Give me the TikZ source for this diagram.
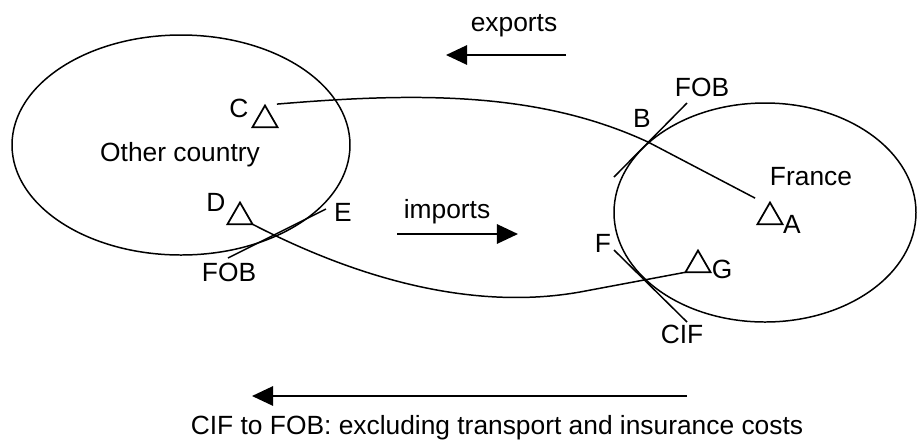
\documentclass[tikz,border=0pt]{standalone}
\usepackage{fontspec}
\setmainfont{Liberation Sans}
\usetikzlibrary{shapes.geometric,arrows.meta}
\tikzset{
  tri/.style={draw,regular polygon,regular polygon sides=3,minimum size=0.58cm,inner sep=0pt,outer sep=0pt,line width=1pt},
  lbl/.style={inner sep=0pt,font=\fontsize{15}{18}\selectfont},
  flow/.style={line width=1.2pt,-{Triangle[length=12pt,width=11pt]}}
}
\begin{document}
\begin{tikzpicture}[x=0.02cm,y=-0.02cm,line width=0.85pt]
\useasboundingbox (0,0) rectangle (917,441);
\draw (181,145) ellipse [x radius=169,y radius=110];
\draw (765,212.5) ellipse [x radius=151,y radius=109.5];
\node[lbl] (other) at (180,155) {Other country};
\node[lbl] (france) at (811,177) {France};
\node[tri] (tC) at (265,120) {};
\node[tri] (tD) at (240,217) {};
\node[tri] (tA) at (770,217) {};
\node[tri] (tG) at (698,265) {};
\node[lbl] (lC) at (239,108) {C};
\node[lbl] (lD) at (216,202) {D};
\node[lbl] (lA) at (792,224) {A};
\node[lbl] (lG) at (722,269) {G};
\coordinate (B) at (648,142);
\coordinate (F) at (580,292);
\draw ([xshift=6.8pt,yshift=0.8pt]tC.corner 1) .. controls (420,92) and (540,92) .. (B)
  -- ([xshift=-8.5pt,yshift=2.5pt]tA.corner 1);
\draw (tD.corner 3) .. controls (380,290) and (490,308) .. (F) -- (tG.corner 2);
% FOB / CIF borders
\coordinate (b1) at (614,177); \coordinate (b2) at (687,103);
\coordinate (e1) at (326,209); \coordinate (e2) at (228,258);
\coordinate (f1) at (614,250); \coordinate (f2) at (687,322);
\draw (b1) -- (b2);
\draw (e1) -- (e2);
\draw (f1) -- (f2);
\node[lbl] (lB) at (642,118) {B};
\node[lbl] (fobB) at (702,87) {FOB};
\node[lbl] (lE) at (343,212) {E};
\node[lbl] (fobE) at (229,272) {FOB};
\node[lbl] (lF) at (603,243) {F};
\node[lbl] (cifF) at (682,334) {CIF};
% flows
\coordinate (ex1) at (566,55); \coordinate (ex2) at (446,55);
\coordinate (im1) at (397,234); \coordinate (im2) at (518,234);
\coordinate (cf1) at (687,396); \coordinate (cf2) at (252,396);
\draw[flow] (ex1) -- (ex2);
\draw[flow] (im1) -- (im2);
\draw[flow] (cf1) -- (cf2);
\node[lbl] (exports) at (514,26) {exports};
\node[lbl] (imports) at (447,212) {imports};
\node[lbl] (cif) at (497,428) {CIF to FOB: excluding transport and insurance costs};
\end{tikzpicture}
\end{document}
